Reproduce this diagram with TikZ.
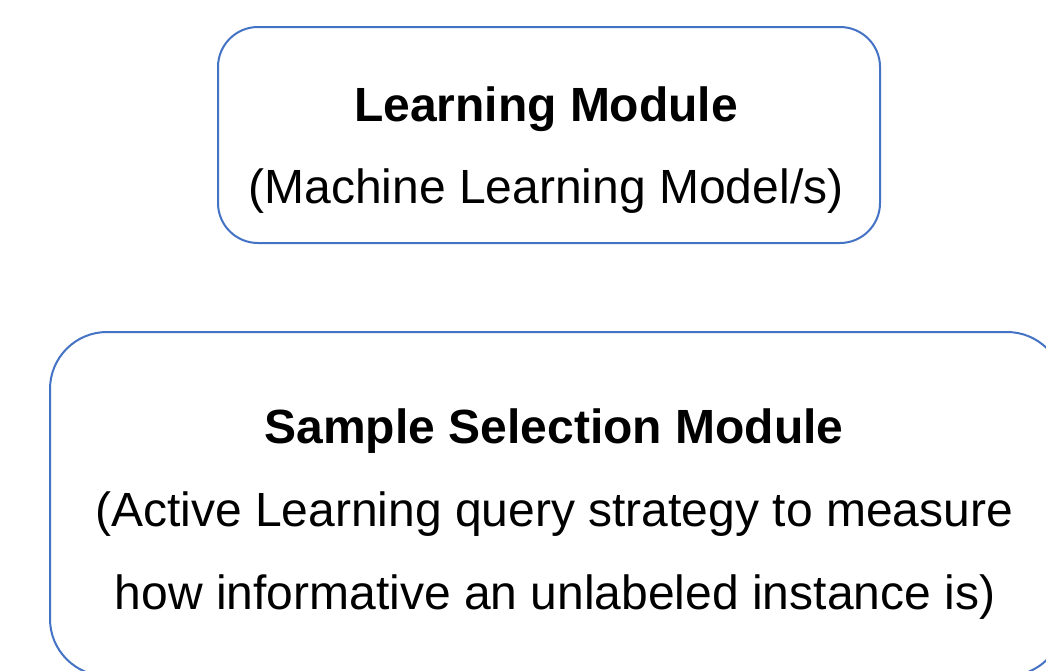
\documentclass[tikz,border=0pt]{standalone}
\usepackage{fontspec}
\setmainfont{Liberation Sans}
\definecolor{modblue}{HTML}{4472C4}
\begin{document}
\begin{tikzpicture}[x=1pt,y=-1pt,
  modbox/.style={draw=modblue, line width=2pt, rounded corners=#1, inner sep=0pt},
  title/.style={anchor=base, inner sep=0pt, font=\fontsize{48}{58}\selectfont\bfseries},
  body/.style={anchor=base, inner sep=0pt, font=\fontsize{48}{58}\selectfont}]
  \clip (0,0) rectangle (1046,670);
  \fill[white] (0,0) rectangle (1046,670);

  % Learning module
  \node[modbox=40pt, minimum width=662pt, minimum height=216pt] (learn) at (549,135) {};
  \node[title] (learnT) at (546,121) {Learning Module};
  \node[body]  (learnB) at (546,203) {(Machine Learning Model/s)};

  % Sample selection module
  \node[modbox=57pt, minimum width=1014pt, minimum height=344pt] (sel) at (557,504) {};
  \node[title] (selT)  at (554,443) {Sample Selection Module};
  \node[body]  (selB1) at (554,526) {(Active Learning query strategy to measure};
  \node[body]  (selB2) at (555,609) {how informative an unlabeled instance is)};
\end{tikzpicture}
\end{document}
